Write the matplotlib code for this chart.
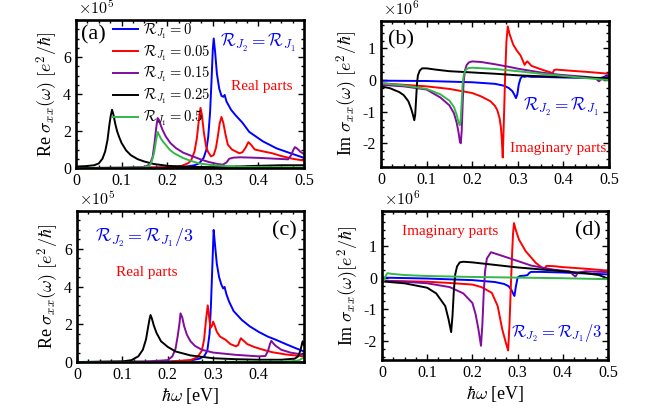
import matplotlib
matplotlib.use('Agg')
import matplotlib.pyplot as plt
from matplotlib.ticker import AutoMinorLocator

plt.rcParams.update({
    'font.family': 'serif',
    'font.serif': ['Liberation Serif', 'DejaVu Serif'],
    'mathtext.fontset': 'cm',
    'axes.unicode_minus': False,
})

# ---------------- data ----------------
labels = [r'$\mathcal{R}_{J_1}=0$', r'$\mathcal{R}_{J_1}=0.05$', r'$\mathcal{R}_{J_1}=0.15$',
          r'$\mathcal{R}_{J_1}=0.25$', r'$\mathcal{R}_{J_1}=0.5$']
colors = ['#0000ff', '#ff0000', '#820c9e', '#000000', '#33b84a']

# Panel (a): Re sigma, R_J2 = R_J1   (units of 1e5)
a_blu_x = [0, 0.1, 0.2, 0.24, 0.26, 0.27, 0.28, 0.286, 0.29, 0.294, 0.297, 0.3, 0.302, 0.305, 0.309, 0.314, 0.319, 0.323, 0.326, 0.33, 0.34, 0.35, 0.365, 0.38, 0.41, 0.44, 0.475, 0.5]
a_blu_y = [0.0, 0.01, 0.03, 0.07, 0.15, 0.25, 0.55, 1.0, 1.7, 3.0, 4.6, 6.4, 7.0, 6.3, 5.1, 4.3, 3.9, 3.85, 3.95, 3.6, 3.15, 2.85, 2.45, 1.95, 1.44, 1.06, 0.76, 0.55]
a_red_x = [0, 0.1, 0.2, 0.23, 0.245, 0.252, 0.26, 0.265, 0.269, 0.273, 0.276, 0.28, 0.285, 0.289, 0.296, 0.302, 0.307, 0.311, 0.315, 0.319, 0.323, 0.328, 0.333, 0.342, 0.35, 0.358, 0.365, 0.372, 0.378, 0.384, 0.392, 0.41, 0.43, 0.45, 0.475, 0.5]
a_red_y = [0.0, 0.01, 0.04, 0.1, 0.25, 0.38, 0.9, 1.6, 2.5, 3.25, 2.9, 2.0, 1.2, 0.9, 0.63, 0.7, 1.1, 1.7, 2.4, 2.76, 2.45, 1.8, 1.26, 1.0, 0.9, 0.8, 0.85, 1.1, 1.4, 1.25, 1.0, 0.9, 0.8, 0.65, 0.5, 0.4]
a_pur_x = [0, 0.1, 0.15, 0.162, 0.168, 0.172, 0.176, 0.179, 0.182, 0.186, 0.19, 0.197, 0.207, 0.219, 0.235, 0.256, 0.275, 0.292, 0.31, 0.322, 0.33, 0.336, 0.345, 0.36, 0.4, 0.44, 0.465, 0.472, 0.477, 0.48, 0.485, 0.492, 0.5]
a_pur_y = [0.0, 0.01, 0.05, 0.2, 0.6, 1.3, 2.2, 2.7, 2.6, 2.3, 2.05, 1.7, 1.35, 1.08, 0.83, 0.63, 0.45, 0.32, 0.22, 0.18, 0.3, 0.5, 0.56, 0.58, 0.55, 0.5, 0.47, 0.7, 1.0, 1.13, 1.05, 0.88, 0.75]
a_blk_x = [0, 0.02, 0.04, 0.05, 0.058, 0.064, 0.069, 0.073, 0.076, 0.079, 0.082, 0.086, 0.09, 0.095, 0.1, 0.11, 0.12, 0.135, 0.15, 0.17, 0.2, 0.25, 0.3, 0.35, 0.4, 0.45, 0.5]
a_blk_y = [0.08, 0.1, 0.15, 0.25, 0.5, 0.9, 1.5, 2.3, 2.8, 3.15, 2.9, 2.4, 2.0, 1.65, 1.35, 0.95, 0.7, 0.48, 0.35, 0.22, 0.12, 0.06, 0.05, 0.08, 0.12, 0.15, 0.15]
a_grn_x = [0, 0.1, 0.15, 0.16, 0.166, 0.171, 0.175, 0.179, 0.182, 0.186, 0.19, 0.197, 0.205, 0.215, 0.234, 0.25, 0.27, 0.3, 0.35, 0.4, 0.5]
a_grn_y = [0.0, 0.01, 0.03, 0.1, 0.35, 0.8, 1.4, 1.95, 1.8, 1.6, 1.45, 1.25, 1.0, 0.8, 0.55, 0.4, 0.25, 0.15, 0.08, 0.05, 0.03]

# Panel (b): Im sigma, R_J2 = R_J1   (units of 1e6)
b_blu_x = [0, 0.1, 0.2, 0.25, 0.27, 0.28, 0.288, 0.292, 0.296, 0.299, 0.302, 0.306, 0.31, 0.315, 0.32, 0.33, 0.35, 0.4, 0.45, 0.48, 0.49, 0.495, 0.5]
b_blu_y = [-0.02, -0.03, -0.07, -0.12, -0.18, -0.25, -0.35, -0.45, -0.57, -0.45, -0.15, 0.05, 0.12, 0.1, 0.12, 0.1, 0.1, 0.08, 0.07, 0.06, 0.1, 0.15, 0.12]
b_red_x = [0, 0.1, 0.15, 0.2, 0.22, 0.24, 0.25, 0.255, 0.26, 0.263, 0.265, 0.267, 0.269, 0.272, 0.275, 0.278, 0.282, 0.29, 0.298, 0.306, 0.312, 0.315, 0.318, 0.321, 0.33, 0.345, 0.357, 0.37, 0.376, 0.38, 0.385, 0.42, 0.45, 0.5]
b_red_y = [-0.1, -0.2, -0.28, -0.41, -0.52, -0.67, -0.82, -0.95, -1.2, -1.5, -1.9, -2.45, -1.5, 0.0, 1.2, 1.7, 1.45, 1.12, 0.93, 0.78, 0.58, 0.48, 0.55, 0.59, 0.45, 0.37, 0.31, 0.25, 0.22, 0.32, 0.33, 0.29, 0.26, 0.2]
b_pur_x = [0, 0.05, 0.1, 0.13, 0.15, 0.16, 0.166, 0.17, 0.173, 0.175, 0.177, 0.179, 0.181, 0.184, 0.188, 0.193, 0.2, 0.22, 0.25, 0.28, 0.3, 0.35, 0.39, 0.45, 0.47, 0.478, 0.485, 0.5]
b_pur_y = [-0.15, -0.2, -0.3, -0.55, -0.8, -1.05, -1.35, -1.65, -1.95, -2.0, -1.6, -0.8, -0.1, 0.3, 0.48, 0.56, 0.59, 0.57, 0.5, 0.42, 0.36, 0.24, 0.17, 0.1, 0.06, -0.04, 0.05, 0.12]
b_blk_x = [0, 0.02, 0.04, 0.05, 0.06, 0.066, 0.07, 0.073, 0.075, 0.077, 0.079, 0.081, 0.085, 0.09, 0.1, 0.12, 0.15, 0.2, 0.25, 0.3, 0.35, 0.4, 0.45, 0.5]
b_blk_y = [-0.2, -0.26, -0.38, -0.48, -0.67, -0.9, -1.1, -1.27, -1.1, -0.6, -0.1, 0.15, 0.3, 0.37, 0.37, 0.33, 0.28, 0.24, 0.2, 0.15, 0.12, 0.1, 0.08, 0.06]
b_grn_x = [0, 0.05, 0.1, 0.13, 0.15, 0.16, 0.166, 0.17, 0.173, 0.175, 0.177, 0.179, 0.182, 0.186, 0.192, 0.2, 0.25, 0.3, 0.35, 0.4, 0.45, 0.5]
b_grn_y = [-0.1, -0.17, -0.28, -0.45, -0.65, -0.85, -1.1, -1.35, -1.43, -1.2, -0.7, -0.1, 0.2, 0.33, 0.38, 0.39, 0.35, 0.28, 0.2, 0.13, 0.06, 0.0]

# Panel (c): Re sigma, R_J2 = R_J1/3   (units of 1e5)
c_blu_x = [0, 0.2, 0.25, 0.27, 0.28, 0.287, 0.292, 0.295, 0.298, 0.301, 0.304, 0.308, 0.313, 0.318, 0.322, 0.325, 0.329, 0.335, 0.345, 0.363, 0.38, 0.4, 0.42, 0.436, 0.46, 0.48, 0.5]
c_blu_y = [0, 0.02, 0.08, 0.18, 0.3, 0.6, 1.5, 3.0, 5.0, 7.0, 6.2, 5.2, 4.5, 4.1, 3.9, 3.98, 3.6, 3.2, 2.7, 2.23, 1.9, 1.6, 1.35, 1.2, 0.95, 0.75, 0.56]
c_red_x = [0, 0.2, 0.25, 0.265, 0.275, 0.28, 0.284, 0.288, 0.291, 0.294, 0.297, 0.3, 0.303, 0.308, 0.315, 0.327, 0.338, 0.35, 0.355, 0.358, 0.361, 0.366, 0.375, 0.39, 0.41, 0.43, 0.46, 0.5]
c_red_y = [0, 0.02, 0.1, 0.25, 0.6, 1.2, 2.2, 3.0, 2.4, 1.8, 1.9, 2.14, 1.95, 1.6, 1.35, 1.18, 0.95, 0.83, 0.9, 1.1, 1.26, 1.15, 0.95, 0.8, 0.65, 0.52, 0.4, 0.3]
c_pur_x = [0, 0.15, 0.2, 0.21, 0.217, 0.222, 0.226, 0.228, 0.232, 0.236, 0.242, 0.25, 0.26, 0.275, 0.3, 0.35, 0.4, 0.415, 0.421, 0.425, 0.428, 0.432, 0.438, 0.45, 0.47, 0.5]
c_pur_y = [0, 0.02, 0.1, 0.3, 0.7, 1.4, 2.1, 2.58, 2.35, 1.9, 1.45, 1.1, 0.85, 0.65, 0.5, 0.38, 0.3, 0.32, 0.6, 0.95, 1.12, 1.0, 0.85, 0.65, 0.5, 0.38]
c_blk_x = [0, 0.1, 0.12, 0.135, 0.145, 0.152, 0.157, 0.16, 0.162, 0.165, 0.169, 0.175, 0.185, 0.2, 0.217, 0.25, 0.3, 0.35, 0.4, 0.45, 0.48, 0.487, 0.492, 0.495, 0.497, 0.5]
c_blk_y = [0, 0.03, 0.1, 0.3, 0.65, 1.2, 1.9, 2.3, 2.49, 2.3, 1.95, 1.55, 1.1, 0.8, 0.56, 0.35, 0.2, 0.15, 0.12, 0.12, 0.18, 0.3, 0.6, 0.9, 1.1, 0.9]
c_grn_x = [0, 0.1, 0.2, 0.3, 0.4, 0.45, 0.48, 0.49, 0.495, 0.5]
c_grn_y = [0.0, 0.0, 0.0, 0.01, 0.02, 0.03, 0.05, 0.1, 0.18, 0.25]

# Panel (d): Im sigma, R_J2 = R_J1/3   (units of 1e6)
d_blu_x = [0, 0.1, 0.2, 0.25, 0.27, 0.28, 0.286, 0.29, 0.293, 0.296, 0.3, 0.305, 0.315, 0.322, 0.326, 0.33, 0.35, 0.4, 0.45, 0.5]
d_blu_y = [0.0, -0.03, -0.08, -0.14, -0.2, -0.27, -0.38, -0.5, -0.58, -0.3, 0.0, 0.05, 0.06, 0.08, 0.15, 0.18, 0.18, 0.16, 0.13, 0.1]
d_red_x = [0, 0.1, 0.15, 0.2, 0.22, 0.243, 0.256, 0.266, 0.273, 0.279, 0.282, 0.285, 0.288, 0.29, 0.292, 0.296, 0.303, 0.318, 0.34, 0.354, 0.36, 0.364, 0.38, 0.4, 0.45, 0.5]
d_red_y = [-0.1, -0.13, -0.17, -0.22, -0.3, -0.48, -0.9, -1.63, -2.0, -2.3, -1.5, -0.3, 0.8, 1.4, 1.72, 1.5, 1.2, 0.83, 0.47, 0.31, 0.3, 0.37, 0.36, 0.33, 0.28, 0.22]
d_pur_x = [0, 0.05, 0.1, 0.15, 0.18, 0.2, 0.207, 0.213, 0.219, 0.222, 0.225, 0.228, 0.232, 0.241, 0.25, 0.28, 0.33, 0.38, 0.415, 0.422, 0.428, 0.433, 0.45, 0.5]
d_pur_y = [-0.1, -0.13, -0.18, -0.3, -0.5, -0.8, -1.15, -1.6, -2.15, -1.5, -0.5, 0.2, 0.6, 0.8, 0.76, 0.62, 0.38, 0.25, 0.2, 0.1, 0.03, 0.15, 0.2, 0.17]
d_blk_x = [0, 0.05, 0.1, 0.12, 0.14, 0.147, 0.153, 0.156, 0.159, 0.162, 0.166, 0.172, 0.18, 0.2, 0.25, 0.3, 0.35, 0.4, 0.45, 0.48, 0.5]
d_blk_y = [-0.12, -0.18, -0.32, -0.5, -0.9, -1.3, -1.72, -1.2, -0.4, 0.1, 0.35, 0.48, 0.5, 0.48, 0.4, 0.32, 0.26, 0.2, 0.14, 0.08, -0.03]
d_grn_x = [0, 0.004, 0.008, 0.012, 0.02, 0.05, 0.1, 0.2, 0.3, 0.4, 0.5]
d_grn_y = [-0.12, -0.1, 0.05, 0.14, 0.12, 0.08, 0.05, 0.02, 0.0, -0.02, -0.05]

xtick_vals = [0, 0.1, 0.2, 0.3, 0.4, 0.5]
xtick_labels = ['0', '0.1', '0.2', '0.3', '0.4', '0.5']
re_ticks = [0, 2, 4, 6]
im_ticks = [-2, -1, 0, 1]

# ---------------- figure ----------------
fig = plt.figure(figsize=(6.69, 4.08), dpi=100)
axa = fig.add_axes([0.1136, 0.5882, 0.3408, 0.3627])
axb = fig.add_axes([0.5695, 0.5907, 0.3408, 0.3580])
axc = fig.add_axes([0.1151, 0.1127, 0.3393, 0.3700])
axd = fig.add_axes([0.5710, 0.1176, 0.3378, 0.3652])


def style(ax, yticks, ylim, xt=xtick_vals, xl=xtick_labels):
    ax.set_xlim(0, 0.5)
    ax.set_ylim(*ylim)
    ax.set_xticks(xt)
    ax.set_xticklabels(xl)
    ax.set_yticks(yticks)
    ax.set_yticklabels([str(t) for t in yticks])
    ax.xaxis.set_minor_locator(AutoMinorLocator(4))
    ax.yaxis.set_minor_locator(AutoMinorLocator(4))
    ax.tick_params(which='both', direction='in', top=True, right=True, labelsize=11.5)
    ax.tick_params(which='major', length=4, width=1)
    ax.tick_params(which='minor', length=2.2, width=1)
    for s in ax.spines.values():
        s.set_linewidth(1.9)


lw = 1.4
sets = {
    axa: [(a_blu_x, a_blu_y), (a_red_x, a_red_y), (a_pur_x, a_pur_y), (a_blk_x, a_blk_y), (a_grn_x, a_grn_y)],
    axb: [(b_blu_x, b_blu_y), (b_red_x, b_red_y), (b_pur_x, b_pur_y), (b_blk_x, b_blk_y), (b_grn_x, b_grn_y)],
    axc: [(c_blu_x, c_blu_y), (c_red_x, c_red_y), (c_pur_x, c_pur_y), (c_blk_x, c_blk_y), (c_grn_x, c_grn_y)],
    axd: [(d_blu_x, d_blu_y), (d_red_x, d_red_y), (d_pur_x, d_pur_y), (d_blk_x, d_blk_y), (d_grn_x, d_grn_y)],
}
for ax, curves in sets.items():
    for (x, y), c, lab in zip(curves, colors, labels):
        ax.plot(x, y, color=c, lw=lw, label=lab)

style(axa, re_ticks, (0, 8))
style(axb, im_ticks, (-2.75, 1.87))
style(axc, re_ticks, (0, 8), xt=xtick_vals[:-1], xl=xtick_labels[:-1])
style(axd, im_ticks, (-2.6, 2.1))

# offset texts
for ax, t in [(axa, r'$\times10^5$'), (axb, r'$\times10^6$'), (axc, r'$\times10^5$'), (axd, r'$\times10^6$')]:
    ax.text(0.01, 1.015, t, transform=ax.transAxes, fontsize=11.5, ha='left', va='bottom')

axa.set_ylabel(r'Re $\sigma_{xx}(\omega)$ $[e^2/\hbar]$', fontsize=13, labelpad=2)
axb.set_ylabel(r'Im $\sigma_{xx}(\omega)$ $[e^2/\hbar]$', fontsize=13, labelpad=2)
axc.set_ylabel(r'Re $\sigma_{xx}(\omega)$ $[e^2/\hbar]$', fontsize=13, labelpad=2)
axd.set_ylabel(r'Im $\sigma_{xx}(\omega)[e^2/\hbar]$', fontsize=13, labelpad=2)
axc.set_xlabel(r'$\hbar\omega$ [eV]', fontsize=13, labelpad=2)
axd.set_xlabel(r'$\hbar\omega$ [eV]', fontsize=13, labelpad=2)

axa.legend(loc='upper left', bbox_to_anchor=(0.162, 0.99), frameon=False, fontsize=10.5,
           handlelength=1.75, handletextpad=0.3, labelspacing=0.18, borderpad=0, borderaxespad=0)

# panel letters
axa.text(0.02, 0.9, '(a)', transform=axa.transAxes, fontsize=16, va='center', ha='left')
axb.text(0.03, 0.87, '(b)', transform=axb.transAxes, fontsize=16, va='center', ha='left')
axc.text(0.97, 0.87, '(c)', transform=axc.transAxes, fontsize=16, va='center', ha='right')
axd.text(0.97, 0.87, '(d)', transform=axd.transAxes, fontsize=16, va='center', ha='right')

# annotations
fs_ann = 12.5
axa.text(0.965, 0.845, r'$\mathcal{R}_{J_2}=\mathcal{R}_{J_1}$', transform=axa.transAxes, color='#0000ff', fontsize=fs_ann, ha='right', va='center')
axa.text(0.95, 0.55, 'Real parts', transform=axa.transAxes, color='#ff0000', fontsize=11, ha='right', va='center')
axb.text(0.955, 0.41, r'$\mathcal{R}_{J_2}=\mathcal{R}_{J_1}$', transform=axb.transAxes, color='#0000ff', fontsize=fs_ann, ha='right', va='center')
axb.text(0.99, 0.13, 'Imaginary parts', transform=axb.transAxes, color='#ff0000', fontsize=11, ha='right', va='center')
axc.text(0.08, 0.82, r'$\mathcal{R}_{J_2}=\mathcal{R}_{J_1}/3$', transform=axc.transAxes, color='#0000ff', fontsize=13, ha='left', va='center')
axc.text(0.17, 0.59, 'Real parts', transform=axc.transAxes, color='#ff0000', fontsize=11, ha='left', va='center')
axd.text(0.09, 0.86, 'Imaginary parts', transform=axd.transAxes, color='#ff0000', fontsize=11, ha='left', va='center')
axd.text(0.975, 0.18, r'$\mathcal{R}_{J_2}=\mathcal{R}_{J_1}/3$', transform=axd.transAxes, color='#0000ff', fontsize=12, ha='right', va='center')

fig.savefig('out.png', dpi=100)
